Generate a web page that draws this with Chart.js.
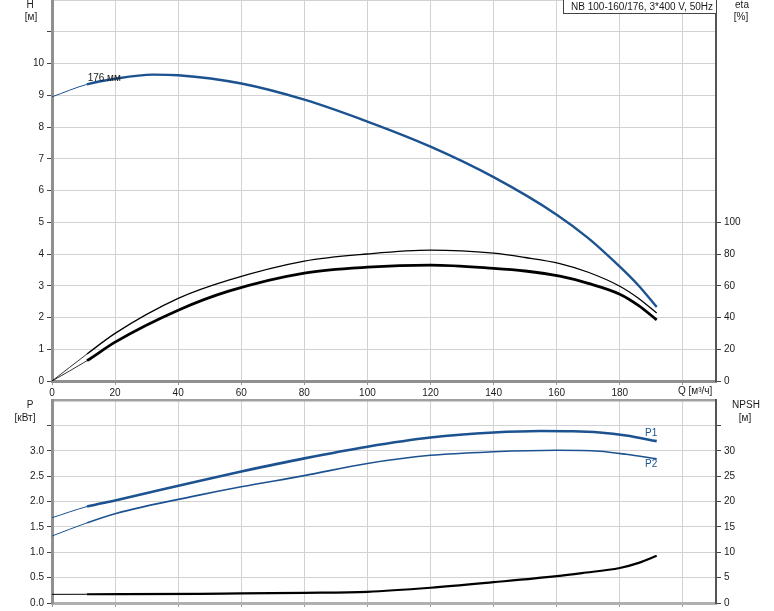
<!DOCTYPE html>
<html>
<head>
<meta charset="utf-8">
<script src="https://cdn.jsdelivr.net/npm/chart.js@4.4.0/dist/chart.umd.min.js"></script>
<style>
    body { margin: 0; background: #fff; }
    #wrap { position: relative; width: 774px; height: 611px; }
    canvas { position: absolute; left: 0; }
</style>
</head>
<body>
<div id="wrap">
    <canvas id="chartTop" width="774" height="396" style="top:0"></canvas>
    <canvas id="chartBottom" width="774" height="215" style="top:396px"></canvas>
</div>
<script>
// Q [m3/h] with head H [m]
var qHead = [0, 11, 20, 32, 40, 60, 80, 100, 120, 140, 160, 170, 180, 186, 191.7];
var head = [8.95, 9.34, 9.52, 9.65, 9.63, 9.37, 8.86, 8.17, 7.38, 6.42, 5.24, 4.5, 3.6, 3.0, 2.33];

// efficiency curves [%]
var qEta = [0, 11.1, 20, 40, 56, 80, 100, 120, 140, 150, 161, 170, 180, 186, 191.7];
var etaUpper = [0, 17, 30, 52, 63.5, 75.5, 80, 82.4, 80.5, 77.8, 74, 68.5, 59.7, 52, 42.8];
var etaLower = [0, 12.8, 24.5, 44.6, 56.6, 68, 71.7, 73, 71, 69.3, 66, 61.5, 54.7, 47.5, 38.5];

// power P1 / P2 [kW]
var qP1 = [0, 11.1, 20, 47, 60, 80, 100, 120, 140, 155, 165, 173.6, 182, 191.7];
var powerP1 = [1.68, 1.9, 2.02, 2.41, 2.59, 2.85, 3.08, 3.26, 3.36, 3.39, 3.385, 3.36, 3.3, 3.19];
var qP2 = [0, 11.1, 20, 47, 60, 80, 100, 120, 140, 160, 173.6, 182, 191.7];
var powerP2 = [1.32, 1.58, 1.76, 2.13, 2.29, 2.51, 2.75, 2.91, 2.98, 3.01, 2.99, 2.93, 2.84];

// NPSH [m]
var qNpsh = [0, 11.1, 47, 60, 80, 100, 120, 140, 160, 168, 180, 186, 191.7];
var npsh = [1.7, 1.72, 1.78, 1.9, 2.0, 2.2, 3.0, 4.1, 5.3, 5.9, 6.9, 7.9, 9.3];

// tick labels
var qLabels = [0, 20, 40, 60, 80, 100, 120, 140, 160, 180];
var hLabels = [0, 1, 2, 3, 4, 5, 6, 7, 8, 9, 10];
var etaLabels = [0, 20, 40, 60, 80, 100];
var pLabels = [0, 0.5, 1.0, 1.5, 2.0, 2.5, 3.0];
var npshLabels = [0, 5, 10, 15, 20, 25, 30];

var BLUE = '#1c5290';
var FONT = '"Liberation Sans", Arial, sans-serif';
var GRID = '#d2d2d2';
var THIN_END = 11.2;

function pts(xs, ys) {
    return xs.map(function(x, i) { return { x: x, y: ys[i] }; });
}

function curve(xs, ys, color, thick, thin, axis) {
    return {
        data: pts(xs, ys),
        borderColor: color,
        borderWidth: thick,
        pointRadius: 0,
        fill: false,
        cubicInterpolationMode: 'monotone',
        yAxisID: axis,
        segment: {
            borderWidth: function(ctx) { return ctx.p1.parsed.x <= THIN_END ? thin : thick; }
        }
    };
}

function fixWidth(w) {
    return function(s) { s.width = w; s.paddingTop = 0; s.paddingBottom = 0; };
}
function fixHeight(h) {
    return function(s) { s.height = h; s.paddingLeft = 0; s.paddingRight = 0; };
}

function labelIf(list, fmt) {
    return function(v) {
        for (var i = 0; i < list.length; i++) {
            if (Math.abs(list[i] - v) < 1e-6) return fmt ? fmt(v) : String(v);
        }
        return '';
    };
}

function tickMarkIf(maxVal, color) {
    return function(ctx) { return ctx.tick && ctx.tick.value <= maxVal + 1e-6 ? color : 'rgba(0,0,0,0)'; };
}

function xScale(showLabels, height, axisColor) {
    return {
        type: 'linear',
        min: 0,
        max: 210.5,
        afterFit: fixHeight(height),
        ticks: {
            stepSize: 20,
            includeBounds: false,
            display: showLabels,
            padding: 2,
            color: '#1a1a1a',
            font: { family: FONT, size: 10 },
            callback: labelIf(qLabels)
        },
        grid: { color: GRID, lineWidth: 1, tickLength: 4, tickColor: '#9a9a9a' },
        border: { display: true, color: axisColor, width: 3 }
    };
}

function drawText(c, txt, x, y, align, color) {
    c.save();
    c.font = '10px ' + FONT;
    c.fillStyle = color || '#1a1a1a';
    c.textAlign = align || 'center';
    c.textBaseline = 'middle';
    c.fillText(txt, x, y);
    c.restore();
}

// верхний график: напор и КПД
var topTexts = {
    id: 'topTexts',
    afterDraw: function(chart) {
        var c = chart.ctx;
        var sx = chart.scales.x, sy = chart.scales.y;
        drawText(c, 'H', 30, 5);
        drawText(c, '[м]', 31, 17);
        drawText(c, 'eta', 742, 5);
        drawText(c, '[%]', 741, 17);
        drawText(c, 'Q [м³/ч]', 678, 391, 'left');
        drawText(c, '176 мм', sx.getPixelForValue(11.3), sy.getPixelForValue(9.55), 'left');

        c.save();
        c.fillStyle = '#fff';
        c.fillRect(563.5, -1, 153, 14.5);
        c.strokeStyle = '#444';
        c.lineWidth = 1;
        c.strokeRect(563.5, -1, 153, 14.5);
        c.restore();
        drawText(c, 'NB 100-160/176, 3*400 V, 50Hz', 713, 7, 'right');
    }
};

var ctxTop = document.getElementById('chartTop').getContext('2d');
var chartTop = new Chart(ctxTop, {
    type: 'line',
    data: {
        datasets: [
            curve(qHead, head, BLUE, 2.4, 1, 'y'),
            curve(qEta, etaUpper, '#000', 1.3, 0.8, 'eta'),
            curve(qEta, etaLower, '#000', 2.8, 0.8, 'eta')
        ]
    },
    options: {
        responsive: false,
        animation: false,
        layout: { padding: 0 },
        plugins: { legend: { display: false }, tooltip: { enabled: false } },
        scales: {
            x: xScale(true, 15, '#909090'),
            y: {
                position: 'left',
                min: 0,
                max: 12,
                afterFit: fixWidth(52),
                ticks: {
                    stepSize: 1,
                    padding: 3,
                    color: '#1a1a1a',
                    font: { family: FONT, size: 10 },
                    callback: labelIf(hLabels)
                },
                grid: { color: GRID, lineWidth: 1, tickLength: 5, tickColor: tickMarkIf(11, '#444') },
                border: { display: true, color: '#909090', width: 3 }
            },
            eta: {
                position: 'right',
                min: 0,
                max: 240,
                afterFit: fixWidth(58),
                ticks: {
                    stepSize: 20,
                    padding: 3,
                    color: '#1a1a1a',
                    font: { family: FONT, size: 10 },
                    callback: labelIf(etaLabels)
                },
                grid: { drawOnChartArea: false, tickLength: 5, color: '#444', tickColor: tickMarkIf(100, '#444') },
                border: { display: true, color: '#555', width: 2 }
            }
        }
    },
    plugins: [topTexts]
});

// нижний график: мощность и NPSH
var bottomTexts = {
    id: 'bottomTexts',
    afterDraw: function(chart) {
        var c = chart.ctx;
        var sx = chart.scales.x, sy = chart.scales.y;
        drawText(c, 'P', 30, 9);
        drawText(c, '[кВт]', 25, 22);
        drawText(c, 'NPSH', 746, 9);
        drawText(c, '[м]', 745, 22);
        drawText(c, 'P1', sx.getPixelForValue(188), sy.getPixelForValue(3.35), 'left', BLUE);
        drawText(c, 'P2', sx.getPixelForValue(188), sy.getPixelForValue(2.74), 'left', BLUE);
    }
};

var ctxBottom = document.getElementById('chartBottom').getContext('2d');
var chartBottom = new Chart(ctxBottom, {
    type: 'line',
    data: {
        datasets: [
            curve(qP1, powerP1, BLUE, 2.6, 1, 'y'),
            curve(qP2, powerP2, BLUE, 1.6, 1, 'y'),
            curve(qNpsh, npsh, '#000', 2.2, 1, 'npsh')
        ]
    },
    options: {
        responsive: false,
        animation: false,
        layout: { padding: { top: 4, left: 0, right: 0, bottom: 0 } },
        plugins: { legend: { display: false }, tooltip: { enabled: false } },
        scales: {
            x: xScale(false, 8, '#b0b0b0'),
            y: {
                position: 'left',
                min: 0,
                max: 4,
                afterFit: fixWidth(52),
                ticks: {
                    stepSize: 0.5,
                    padding: 3,
                    color: '#1a1a1a',
                    font: { family: FONT, size: 10 },
                    callback: labelIf(pLabels, function(v) { return v.toFixed(1); })
                },
                grid: {
                    color: function(ctx) { return ctx.tick && ctx.tick.value >= 4 ? '#a0a0a0' : GRID; },
                    lineWidth: function(ctx) { return ctx.tick && ctx.tick.value >= 4 ? 2.5 : 1; },
                    tickLength: 5,
                    tickColor: tickMarkIf(3.5, '#444')
                },
                border: { display: true, color: '#909090', width: 3 }
            },
            npsh: {
                position: 'right',
                min: 0,
                max: 40,
                afterFit: fixWidth(58),
                ticks: {
                    stepSize: 5,
                    padding: 3,
                    color: '#1a1a1a',
                    font: { family: FONT, size: 10 },
                    callback: labelIf(npshLabels)
                },
                grid: { drawOnChartArea: false, tickLength: 5, color: '#444', tickColor: tickMarkIf(35, '#444') },
                border: { display: true, color: '#555', width: 2 }
            }
        }
    },
    plugins: [bottomTexts]
});
</script>
</body>
</html>
